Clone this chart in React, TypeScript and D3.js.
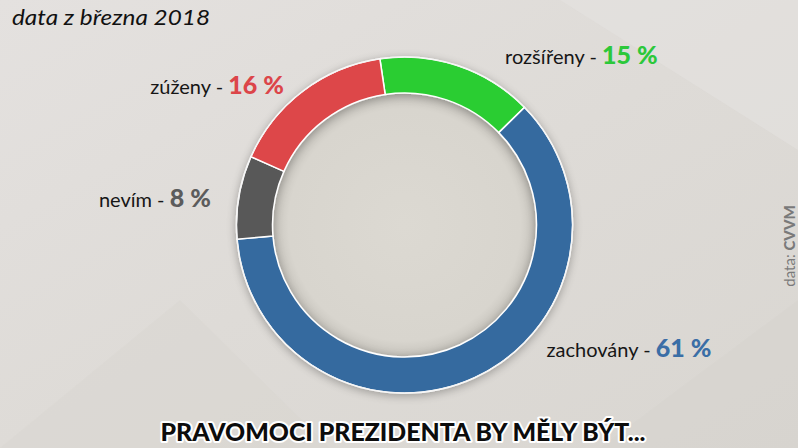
import React from 'react';
import * as d3 from 'd3';

const categories = ['rozšířeny', 'zachovány', 'nevím', 'zúženy'];
const values = [15, 61, 8, 16];
const sliceColors = ['#2ccd33', '#346a9f', '#585858', '#dd4649'];
const labelColors = ['#2cc83a', '#3a6ea6', '#5c5c5c', '#dc4549'];

const subtitle = 'data z března 2018';
const title = 'PRAVOMOCI PREZIDENTA BY MĚLY BÝT...';
const source = ['data: ', 'CVVM'];

const W = 798;
const H = 448;

// label offsets from the slice's mid-point on the outer edge
const labelOffsets: { dx: number; dy: number; anchor: 'start' | 'end' }[] = [
  { dx: 47, dy: -2, anchor: 'start' },
  { dx: 72, dy: -21, anchor: 'start' },
  { dx: -28, dy: 10, anchor: 'end' },
  { dx: -19, dy: 3, anchor: 'end' },
];

const App: React.FC = () => {
  const cx = 404.5;
  const cy = 225;
  const outerR = 168;
  const innerR = 132;
  const start = -0.147;

  const pie = d3.pie<number>().sort(null).value(d => d)
    .startAngle(start).endAngle(start + Math.PI * 2);
  const arcs = pie(values);
  const arc = d3.arc<d3.PieArcDatum<number>>().innerRadius(innerR).outerRadius(outerR);
  const edge = d3.arc<d3.PieArcDatum<number>>().innerRadius(outerR).outerRadius(outerR);

  const labelFont = 'Lato, "Open Sans", sans-serif';

  return (
    <svg width={W} height={H} style={{ position: 'absolute', left: 0, top: 0 }}>
      <defs>
        <linearGradient id="bg" x1="0" y1="0" x2="1" y2="1">
          <stop offset="0%" stopColor="#e4e1df" />
          <stop offset="50%" stopColor="#dedbd7" />
          <stop offset="100%" stopColor="#d9d6d1" />
        </linearGradient>
        <radialGradient id="inner" cx="0.5" cy="0.5" r="0.5">
          <stop offset="0%" stopColor="#dcd9d2" />
          <stop offset="88%" stopColor="#d8d5ce" />
          <stop offset="100%" stopColor="#c6c3bc" />
        </radialGradient>
        <filter id="shadow" x="-20%" y="-20%" width="140%" height="140%">
          <feGaussianBlur in="SourceAlpha" stdDeviation="5" />
          <feOffset dx="0" dy="2" result="b" />
          <feComponentTransfer><feFuncA type="linear" slope="0.3" /></feComponentTransfer>
          <feMerge>
            <feMergeNode />
            <feMergeNode in="SourceGraphic" />
          </feMerge>
        </filter>
      </defs>
      <rect width={W} height={H} fill="url(#bg)" />
      <polygon points="0,448 180,300 330,448" fill="#d6d3cf" opacity={0.35} />
      <polygon points="560,0 798,0 798,150" fill="#e6e3e1" opacity={0.5} />
      <polygon points="600,448 798,300 798,448" fill="#d4d1cc" opacity={0.4} />

      <text x={12} y={25} fontFamily={labelFont} fontStyle="italic" fontSize={22}
        fill="#111" textLength={198} lengthAdjust="spacingAndGlyphs">
        {subtitle}
      </text>

      <g transform={`translate(${cx},${cy})`}>
        <circle r={innerR} fill="url(#inner)" />
        <g filter="url(#shadow)">
          {arcs.map((a, i) => (
            <path key={categories[i]} d={arc(a) || ''} fill={sliceColors[i]} stroke="#ffffff" strokeWidth={1.5} />
          ))}
        </g>
        <circle r={outerR} fill="none" stroke="#f4f4f4" strokeWidth={1} />
      </g>

      {arcs.map((a, i) => {
        const [mx, my] = edge.centroid(a);
        const o = labelOffsets[i];
        return (
          <text
            key={categories[i]}
            x={cx + mx + o.dx}
            y={cy + my + o.dy}
            textAnchor={o.anchor}
            fontFamily={labelFont}
            fontSize={20}
            fill="#161616"
          >
            {categories[i]} -{' '}
            <tspan fontWeight={900} fontSize={25} fill={labelColors[i]}>
              {values[i]} %
            </tspan>
          </text>
        );
      })}

      <text
        transform={`translate(795,246) rotate(-90)`}
        textAnchor="middle"
        fontFamily={labelFont}
        fontSize={15}
        fill="#7a7a7a"
      >
        {source[0]}
        <tspan fontWeight={900}>{source[1]}</tspan>
      </text>

      <text
        x={403}
        y={441}
        textAnchor="middle"
        fontFamily={labelFont}
        fontWeight={900}
        fontSize={25}
        fill="#0c0c0c"
        stroke="#ffffff"
        strokeWidth={4}
        strokeLinejoin="round"
        paintOrder="stroke"
        textLength={485}
        lengthAdjust="spacingAndGlyphs"
      >
        {title}
      </text>
    </svg>
  );
};

export default App;
